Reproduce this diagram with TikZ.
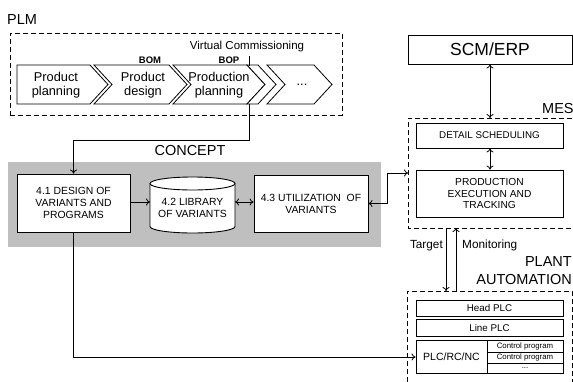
\documentclass[tikz,border=0pt]{standalone}
\usepackage{fontspec}
\setmainfont{Liberation Sans}
\usetikzlibrary{arrows.meta}
\begin{document}
\begin{tikzpicture}[x=1pt,y=-1pt,
  lw/.style={line width=0.8pt},
  box/.style={draw, line width=0.9pt, fill=white, align=center, inner sep=0pt},
  frame/.style={draw, line width=0.9pt, dash pattern=on 5pt off 3pt},
  arr/.style={line width=0.8pt, -{To[length=4pt,width=7pt]}},
  darr/.style={line width=0.8pt, {To[length=4pt,width=7pt]}-{To[length=4pt,width=7pt]}},
  bigl/.style={font=\fontsize{14.5}{18}\selectfont, inner sep=0pt},
  btxt/.style={font=\fontsize{10.4}{12}\selectfont},
  ctxt/.style={font=\fontsize{12.8}{14.5}\selectfont, align=center, inner sep=0pt},
  chev/.style={draw, line width=0.8pt, fill=white},
  ]
\useasboundingbox (0,0) rectangle (573,381);

% ---------- PLM ----------
\node[bigl, anchor=west] (plmlbl) at (7,20) {PLM};
\node[frame, minimum width=332pt, minimum height=82pt, inner sep=0pt] (plm) at (176,74) {};

\draw[chev] (17,65) -- (90,65) -- (108,84.5) -- (90,104) -- (17,104) -- cycle;
\draw[chev] (94,65) -- (169,65) -- (187,84.5) -- (169,104) -- (94,104) -- (112,84.5) -- cycle;
\draw[chev] (173,65) -- (247,65) -- (265,84.5) -- (247,104) -- (173,104) -- (191,84.5) -- cycle;
\draw[chev] (247,65) -- (258,65) -- (276,84.5) -- (258,104) -- (247,104) -- (265,84.5) -- cycle;
\draw[chev] (267,65) -- (314,65) -- (332,84.5) -- (314,104) -- (267,104) -- (285,84.5) -- cycle;

\node[ctxt] (pp) at (56,85) {Product\\planning};
\node[ctxt] (pd) at (143,85) {Product\\design};
\node[ctxt] (prp) at (219,85) {Production\\planning};
\node[ctxt] (more) at (302,85) {...};

\node[font=\fontsize{11.5}{13}\selectfont, inner sep=0pt, anchor=base] (vclbl) at (247,49) {Virtual Commissioning};
\node[font=\bfseries\fontsize{9.5}{11}\selectfont, inner sep=0pt, anchor=base] (bom) at (150,63) {BOM};
\node[font=\bfseries\fontsize{9.5}{11}\selectfont, inner sep=0pt, anchor=base] (bop) at (229,63) {BOP};

\coordinate (vct) at (249,56);
\coordinate (vctb) at (249,66);
\coordinate (vcb) at (249,104);
\draw[lw] (vct) -- (vctb);

% ---------- CONCEPT ----------
\node[bigl, anchor=base] (conlbl) at (190,155) {CONCEPT};
\fill[gray!50] (8,162) rectangle (381,247);

\node[box, btxt, minimum width=113pt, minimum height=58pt] (d41) at (73.5,203) {4.1 DESIGN OF\\VARIANTS AND\\PROGRAMS};
\node[box, btxt, minimum width=114pt, minimum height=57pt] (d43) at (311,203.5) {4.3 UTILIZATION\ \ OF\\VARIANTS};

% cylinder 4.2
\draw[line width=0.9pt, fill=white] (150,183.5) -- (150,226.5) arc[start angle=180, end angle=360, x radius=42.5pt, y radius=6.5pt] -- (235,183.5);
\draw[line width=0.9pt, fill=white] (192.5,183.5) ellipse[x radius=42.5pt, y radius=6.5pt];
\node[btxt, align=center, inner sep=0pt] (lib) at (192.5,208) {4.2 LIBRARY\\OF VARIANTS};
\coordinate (libw) at (150,202);
\coordinate (libe) at (235,202);

\draw[arr] (vcb) -- (249,140) -| (d41.north);
\draw[arr] (d41.east |- libw) -- (libw);
\draw[darr] (libe) -- (d43.west |- libe);

% ---------- SCM / MES ----------
\node[box, font=\fontsize{17.5}{20}\selectfont, minimum width=164pt, minimum height=29pt] (scm) at (490,49.5) {SCM/ERP};
\node[bigl, anchor=base west] (meslbl) at (542,113) {MES};
\draw[frame] (580,118) -- (408,118) -- (408,228) -- (580,228);
\coordinate (mesn) at (490,118);
\coordinate (mesw) at (408,173);

\node[box, font=\fontsize{9.8}{11}\selectfont, minimum width=147pt, minimum height=25pt] (ds) at (489.5,135.5) {DETAIL SCHEDULING};
\node[box, font=\fontsize{10.2}{11.7}\selectfont, minimum width=147pt, minimum height=47pt] (pet) at (489.5,193.5) {PRODUCTION\\EXECUTION AND\\TRACKING};

\draw[darr] (scm.south -| mesn) -- (mesn);
\draw[darr] (ds.south -| mesn) -- (pet.north -| mesn);
\draw[darr] (d43.east) -- (387,203.5) |- (mesw);

% ---------- PLANT AUTOMATION ----------
\node[font=\fontsize{11.8}{13}\selectfont, inner sep=0pt, anchor=base east] (tgt) at (443,248) {Target};
\node[font=\fontsize{11.8}{13}\selectfont, inner sep=0pt, anchor=base west] (mon) at (462,248) {Monitoring};
\node[bigl, anchor=base east] (pl1) at (572,266) {PLANT};
\node[bigl, anchor=base east] (pl2) at (572,284) {AUTOMATION};
\draw[frame] (407,390) -- (407,291) -- (572,291) -- (572,390);

\draw[arr] (446,228) -- (446,291);
\draw[arr] (456,291) -- (456,228);

\node[box, font=\fontsize{9.8}{11}\selectfont, minimum width=147pt, minimum height=16pt] (head) at (489.5,308) {Head PLC};
\node[box, font=\fontsize{9.8}{11}\selectfont, minimum width=147pt, minimum height=17pt] (line) at (489.5,327.5) {Line PLC};
\node[box, font=\fontsize{10.5}{12}\selectfont, minimum width=71pt, minimum height=33pt] (plc) at (451.5,356.5) {PLC/RC/NC};
\node[box, font=\fontsize{7.8}{9}\selectfont, minimum width=76pt, minimum height=12pt] (cp1) at (525,346) {Control program};
\node[box, font=\fontsize{7.8}{9}\selectfont, minimum width=76pt, minimum height=11pt] (cp2) at (525,357.5) {Control program};
\node[box, font=\fontsize{7.8}{9}\selectfont, minimum width=76pt, minimum height=10pt] (cp3) at (525,368) {...};

\draw[arr] (d41.south) -- (73.5,357) -- (plc.west |- 0,357);
\end{tikzpicture}
\end{document}
